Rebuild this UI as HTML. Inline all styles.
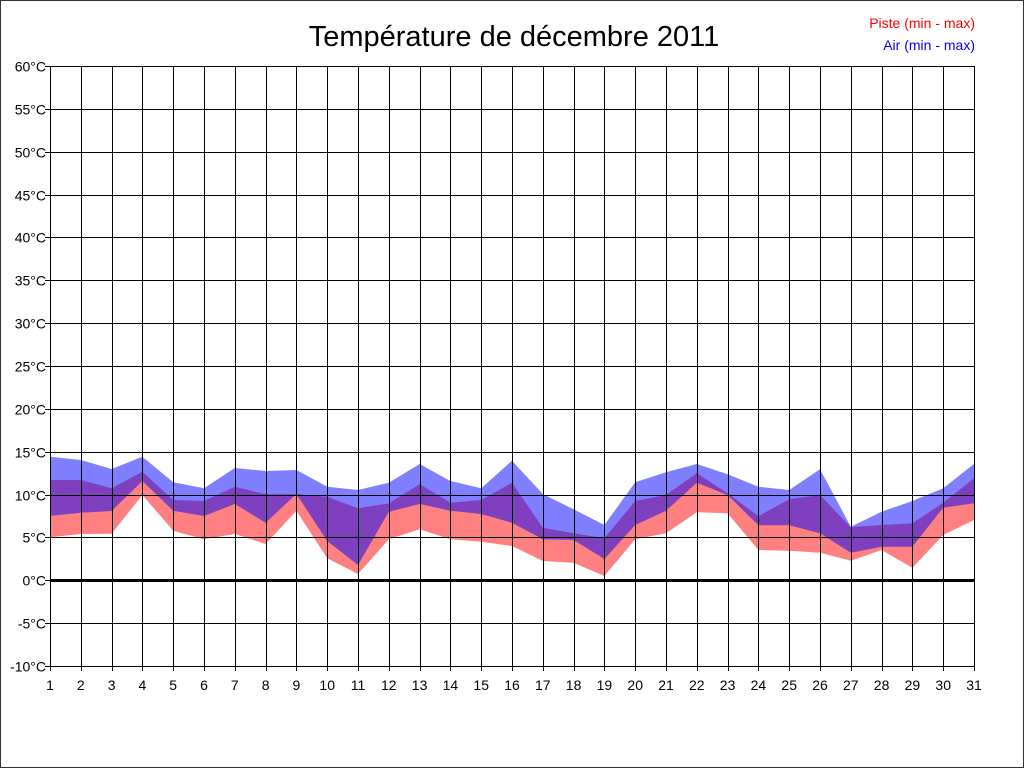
<!DOCTYPE html>
<html><head><meta charset="utf-8"><style>
html,body{margin:0;padding:0;background:#fff}
svg{display:block}
text{font-family:"Liberation Sans",sans-serif}
</style></head><body>
<svg id="s" width="1024" height="768" xmlns="http://www.w3.org/2000/svg">
<rect x="0.5" y="0.5" width="1023" height="767" fill="#fff" stroke="#333"/>
<text x="514" y="46" font-size="29" text-anchor="middle" fill="#000">Température de décembre 2011</text>
<text x="975" y="28" font-size="14" text-anchor="end" fill="#f00">Piste (min - max)</text>
<text x="975" y="50" font-size="14" text-anchor="end" fill="#00f">Air (min - max)</text>
<g id="areas"></g>
<g id="grid" stroke="#000" stroke-width="1"></g>
<g id="lbl" font-size="14" fill="#000"></g>
</svg>
<script>
var ns="http://www.w3.org/2000/svg";
function el(t,a,p){var e=document.createElementNS(ns,t);for(var k in a)e.setAttribute(k,a[k]);p.appendChild(e);return e;}
var d=[
[50,120,228,292],[60,120,218,282],[87,145,213,281],[50,95,123,165],[127,180,212,272],
[145,183,228,298],[84,140,192,282],[93,163,248,312],[90,162,162,212],[140,170,303,355],
[150,205,375,402],[128,190,215,298],[72,133,192,268],[123,188,212,298],[145,180,222,305],
[62,128,248,318],[162,263,298,363],[208,280,300,368],[255,295,357,408],[127,183,255,298],
[97,165,212,280],[72,100,128,217],[103,160,165,220],[140,228,256,330],[150,178,256,332],
[88,165,280,338],[260,262,338,362],[215,255,320,330],[183,250,320,383],[145,188,203,285],[72,115,190,240]];
function X(i){return 50+i*30.8;}
function Y(z){return 440+z/3;}
function poly(top,bot,col){
 var p=[];for(var i=0;i<31;i++)p.push(X(i).toFixed(1)+","+Y(d[i][top]).toFixed(1));
 for(var i=30;i>=0;i--)p.push(X(i).toFixed(1)+","+Y(d[i][bot]).toFixed(1));
 el("polygon",{points:p.join(" "),fill:col},document.getElementById("areas"));
}
poly(1,3,"rgb(255,128,128)");
poly(0,2,"rgba(0,0,255,0.5)");
var g=document.getElementById("grid"),l=document.getElementById("lbl");
for(var i=0;i<31;i++){var x=Math.round(X(i))+0.5;el("line",{x1:x,y1:66,x2:x,y2:671},g);
 var t=el("text",{x:X(i),y:690,"text-anchor":"middle"},l);t.textContent=(i+1);}
for(var k=0;k<=14;k++){var v=60-5*k;var y=Math.round(66+k*600/14)+0.5;
 el("line",{x1:45,y1:y,x2:974,y2:y},g);
 var t=el("text",{x:46,y:y+5,"text-anchor":"end"},l);t.textContent=v+"°C";}
el("line",{x1:974.5,y1:66,x2:974.5,y2:666},g);
el("line",{x1:50,y1:580.5,x2:974,y2:580.5,"stroke-width":3},g);
</script>
</body></html>
